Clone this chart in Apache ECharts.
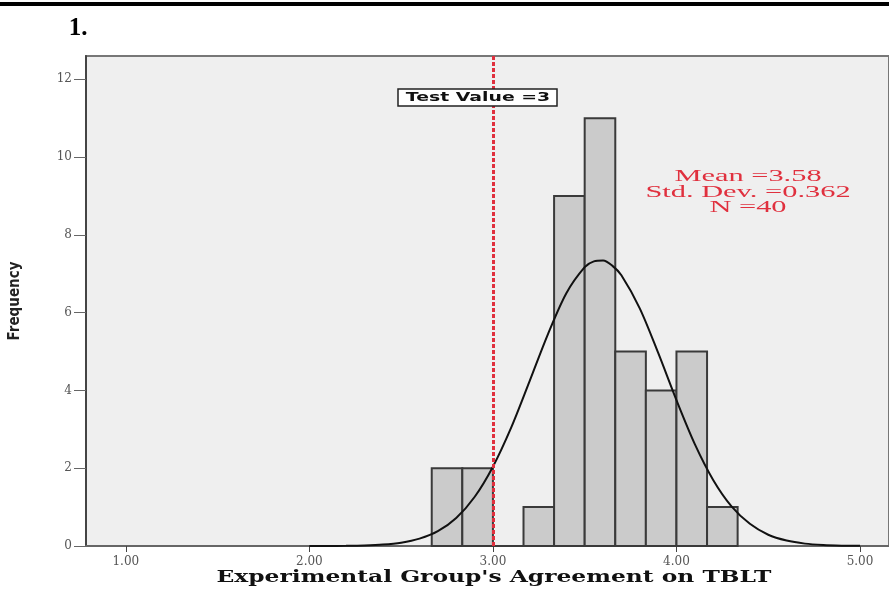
<!DOCTYPE html>
<html><head><meta charset="utf-8">
<script src="https://cdn.jsdelivr.net/npm/echarts@6/dist/echarts.min.js"></script>
<style>html,body{margin:0;padding:0;background:#fff}#c{width:889px;height:592px}</style>
</head><body><div id="c"></div>
<script>
// ---- data ----
const binEdges  = [2.6667, 2.8333, 3.0, 3.1667, 3.3333, 3.5, 3.6667, 3.8333, 4.0, 4.1667, 4.3333];
const binCounts = [2, 2, 0, 1, 9, 11, 5, 4, 5, 1];
const curveX = [2.0, 2.1, 2.2, 2.3, 2.4, 2.5, 2.6, 2.7, 2.8, 2.9, 3.0, 3.1, 3.2, 3.3, 3.4, 3.5, 3.55, 3.6, 3.65, 3.7, 3.8, 3.9, 4.0, 4.1, 4.2, 4.3, 4.4, 4.5, 4.6, 4.7, 4.8, 4.9, 5.0];
const curveY = [0.0005, 0.0017, 0.005, 0.014, 0.036, 0.086, 0.19, 0.38, 0.72, 1.26, 2.04, 3.05, 4.24, 5.45, 6.50, 7.17, 7.32, 7.34, 7.21, 6.96, 6.11, 4.97, 3.75, 2.62, 1.70, 1.02, 0.57, 0.29, 0.14, 0.061, 0.025, 0.0095, 0.0034];
const xTicks = [1, 2, 3, 4, 5];
const yTicks = [0, 2, 4, 6, 8, 10, 12];
const testValue = 3;
const testLabel = 'Test Value =3';
const statsLines = ['Mean =3.58', 'Std. Dev. =0.362', 'N =40'];
const xTitle = "Experimental Group's Agreement on TBLT";
const yTitle = 'Frequency';
const panelTitle = '1.';

const barData = binCounts.map((c, i) => [binEdges[i], binEdges[i + 1], c]);
const curveData = curveX.map((x, i) => [x, curveY[i]]);

const chart = echarts.init(document.getElementById('c'));
const red = '#e0303e';
chart.setOption({
  animation: false,
  backgroundColor: '#ffffff',
  grid: {
    left: 86, right: -2, top: 56, bottom: 46,
    show: true, backgroundColor: '#efefef', borderColor: '#777', borderWidth: 2
  },
  xAxis: {
    type: 'value', min: 0.783, max: 5.158,
    axisLine: { show: true, onZero: false, lineStyle: { color: '#666', width: 2 } },
    axisTick: { show: true, customValues: xTicks, length: 6, lineStyle: { color: '#444', width: 1 } },
    axisLabel: { customValues: xTicks, formatter: v => Number(v).toFixed(2), margin: 10,
      fontFamily: 'DejaVu Serif', fontSize: 12, color: '#555' },
    splitLine: { show: false }
  },
  yAxis: {
    type: 'value', min: 0, max: 12.6,
    name: yTitle, nameLocation: 'middle', nameGap: 63, nameRotate: 90,
    nameTextStyle: { fontFamily: 'Liberation Sans Narrow, DejaVu Sans Condensed, sans-serif', fontWeight: 'bold', fontSize: 15, color: '#222' },
    axisLine: { show: true, lineStyle: { color: '#444', width: 2 } },
    axisTick: { show: true, customValues: yTicks, length: 12, lineStyle: { color: '#666', width: 1 } },
    axisLabel: { customValues: yTicks, margin: 14, fontFamily: 'DejaVu Serif', fontSize: 12, color: '#555' },
    splitLine: { show: false }
  },
  series: [
    {
      type: 'custom',
      data: barData,
      encode: { x: [0, 1], y: 2 },
      renderItem: function (params, api) {
        const p0 = api.coord([api.value(0), 0]);
        const p1 = api.coord([api.value(1), api.value(2)]);
        return {
          type: 'rect',
          shape: { x: p0[0], y: p1[1], width: p1[0] - p0[0], height: p0[1] - p1[1] },
          style: { fill: '#cbcbcb', stroke: '#3a3a3a', lineWidth: 2 }
        };
      },
      z: 2
    },
    {
      type: 'line',
      data: curveData,
      smooth: 0.3,
      showSymbol: false,
      lineStyle: { color: '#111', width: 2 },
      z: 3,
      markLine: {
        silent: true, symbol: 'none',
        label: { show: false },
        lineStyle: { color: red, width: 3, type: [4, 2] },
        data: [{ xAxis: testValue }]
      }
    }
  ],
  graphic: [
    { type: 'rect', left: 0, top: 2, shape: { width: 889, height: 4 }, style: { fill: '#000' } },
    { type: 'text', x: 78, y: 29, style: { text: panelTitle, font: 'bold 25px "Liberation Serif"', fill: '#000', align: 'center', verticalAlign: 'middle' } },
    { type: 'rect', shape: { x: 398, y: 89, width: 159, height: 17 }, style: { fill: '#fff', stroke: '#222', lineWidth: 1.5 }, z: 10 },
    { type: 'group', x: 478, y: 98, scaleX: 1.45, z: 11, children: [
      { type: 'text', style: { text: testLabel, font: 'bold 13px "DejaVu Sans"', fill: '#111', align: 'center', verticalAlign: 'middle' }, z: 11 }
    ] },
    { type: 'group', x: 748, y: 177, scaleX: 1.9, z: 11, children: statsLines.map((t, i) => ({
      type: 'text', y: i * 15.5,
      style: { text: t, font: '16px "Liberation Serif"', fill: red, align: 'center', verticalAlign: 'middle' }, z: 11
    })) },
    { type: 'group', x: 494, y: 578, scaleX: 1.46, z: 11, children: [
      { type: 'text', style: { text: xTitle, font: 'bold 16px "DejaVu Serif"', fill: '#111', align: 'center', verticalAlign: 'middle' } }
    ] }
  ]
});
</script></body></html>
